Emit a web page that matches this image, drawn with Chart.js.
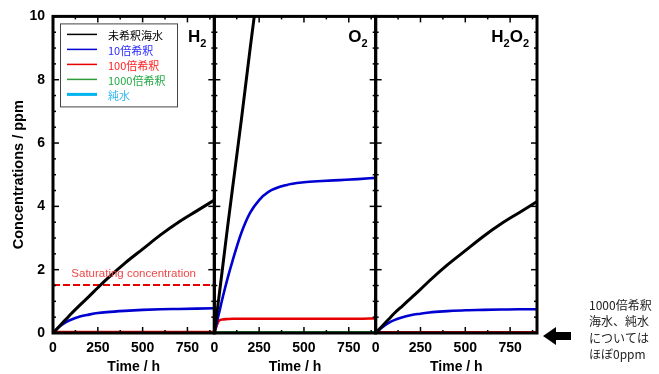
<!DOCTYPE html>
<html>
<head>
<meta charset="utf-8">
<script src="https://cdn.jsdelivr.net/npm/chart.js@4/dist/chart.umd.min.js"></script>
<style>
  html, body { margin: 0; padding: 0; background: #fff; }
  canvas { display: block; }
</style>
</head>
<body>
<canvas id="myChart" width="659" height="374"></canvas>
<script>
// data
const hours = [0, 25, 50, 75, 100, 150, 200, 250, 300, 400, 500, 600, 700, 800, 900];
const seriesNames = ['未希釈海水', '10倍希釈', '100倍希釈', '1000倍希釈', '純水'];
const seriesColors = ['#000000', '#0000d0', '#e60000', '#2e9a3a', '#00b4f0'];
const legendTextColors = ['#000000', '#2a2aff', '#ff2020', '#22aa44', '#33b8f0'];
const panelIds = ['x1', 'x2', 'x3'];

const h2Seawater = [0, 0.15, 0.3, 0.45, 0.6, 0.88, 1.15, 1.43, 1.7, 2.2, 2.65, 3.1, 3.5, 3.85, 4.2];
const h2Dil10 = [0, 0.14, 0.26, 0.35, 0.42, 0.52, 0.58, 0.63, 0.66, 0.7, 0.73, 0.75, 0.76, 0.77, 0.78];
const h2Dil100 = [0.03, 0.03, 0.03, 0.03, 0.03, 0.03, 0.03, 0.03, 0.03, 0.03, 0.03, 0.03, 0.03, 0.03, 0.03];
const h2Dil1000 = [0.01, 0.01, 0.01, 0.01, 0.01, 0.01, 0.01, 0.01, 0.01, 0.01, 0.01, 0.01, 0.01, 0.01, 0.01];
const h2Pure = [0, 0, 0, 0, 0, 0, 0, 0, 0, 0, 0, 0, 0, 0, 0];

const o2Seawater = [0, 1.1, 2.25, 3.4, 4.5, 6.7, 9.0, 11.2, null, null, null, null, null, null, null];
const o2Dil10 = [0, 0.6, 1.2, 1.75, 2.25, 3.15, 3.8, 4.2, 4.45, 4.67, 4.76, 4.8, 4.83, 4.86, 4.9];
const o2Dil100 = [0, 0.38, 0.43, 0.44, 0.45, 0.45, 0.45, 0.45, 0.45, 0.45, 0.45, 0.45, 0.45, 0.45, 0.46];
const o2Dil1000 = [0.03, 0.03, 0.03, 0.03, 0.03, 0.03, 0.03, 0.03, 0.03, 0.03, 0.03, 0.03, 0.03, 0.03, 0.03];
const o2Pure = [0, 0, 0, 0, 0, 0, 0, 0, 0, 0, 0, 0, 0, 0, 0];

const h2o2Seawater = [0, 0.15, 0.3, 0.45, 0.6, 0.86, 1.12, 1.38, 1.65, 2.15, 2.6, 3.05, 3.45, 3.8, 4.15];
const h2o2Dil10 = [0, 0.12, 0.24, 0.33, 0.4, 0.5, 0.57, 0.61, 0.65, 0.69, 0.72, 0.73, 0.74, 0.75, 0.75];
const h2o2Dil100 = [0.02, 0.02, 0.02, 0.02, 0.02, 0.02, 0.02, 0.02, 0.02, 0.02, 0.02, 0.02, 0.02, 0.02, 0.02];
const h2o2Dil1000 = [0.01, 0.01, 0.01, 0.01, 0.01, 0.01, 0.01, 0.01, 0.01, 0.01, 0.01, 0.01, 0.01, 0.01, 0.01];
const h2o2Pure = [0, 0, 0, 0, 0, 0, 0, 0, 0, 0, 0, 0, 0, 0, 0];

const saturationHours = [0, 900];
const saturationH2 = [1.52, 1.52];

const timeTicks = [0, 250, 500, 750];
const concTicks = [0, 2, 4, 6, 8, 10];

const panels = [
  { id: 'x1', label: ['H', '2'], series: [h2Seawater, h2Dil10, h2Dil100, h2Dil1000, h2Pure] },
  { id: 'x2', label: ['O', '2'], series: [o2Seawater, o2Dil10, o2Dil100, o2Dil1000, o2Pure] },
  { id: 'x3', label: ['H', '2', 'O', '2'], series: [h2o2Seawater, h2o2Dil10, h2o2Dil100, h2o2Dil1000, h2o2Pure] }
];

const widths = [3, 2.6, 2.6, 2, 2];

const datasets = [];
panels.forEach(p => {
  p.series.forEach((vals, i) => {
    datasets.push({
      label: seriesNames[i],
      xAxisID: p.id,
      yAxisID: 'y',
      data: hours.map((h, k) => ({x: h, y: vals[k]})),
      borderColor: seriesColors[i],
      backgroundColor: seriesColors[i],
      borderWidth: widths[i],
      pointRadius: 0,
      cubicInterpolationMode: 'monotone',
      spanGaps: false
    });
  });
});
datasets.push({
  label: 'Saturating concentration',
  xAxisID: 'x1',
  yAxisID: 'y',
  data: saturationHours.map((h, k) => ({x: h, y: saturationH2[k]})),
  borderColor: '#e60000',
  borderWidth: 2,
  borderDash: [7, 3],
  pointRadius: 2,
  pointBackgroundColor: '#e60000',
  pointBorderWidth: 0
});

const boldFont = {family: 'Liberation Sans', size: 14, weight: 'bold'};

function xScale(id) {
  return {
    type: 'linear',
    position: 'bottom',
    stack: 'time',
    stackWeight: 1,
    min: 0,
    max: 900,
    grid: {display: false, drawTicks: false},
    border: {display: false},
    afterBuildTicks: s => { s.ticks = timeTicks.map(v => ({value: v})); },
    afterFit: s => { s.height = 41; },
    ticks: {font: boldFont, color: '#000', padding: 7, maxRotation: 0, autoSkip: false},
    title: {display: true, text: 'Time / h', font: boldFont, color: '#000', padding: {top: 0, bottom: -2}}
  };
}

const framePlugin = {
  id: 'frame',
  afterDatasetsDraw(chart) {
    const {ctx, chartArea: a, scales} = chart;
    const y = scales.y;
    const seg = (x0, y0, x1, y1) => { ctx.beginPath(); ctx.moveTo(x0, y0); ctx.lineTo(x1, y1); ctx.stroke(); };
    ctx.save();
    ctx.strokeStyle = '#000';
    panelIds.forEach(id => {
      const x = scales[id];
      ctx.lineWidth = 1.5;
      for (let t = 0; t <= 900; t += 125) {
        const px = x.getPixelForValue(t);
        const len = t % 250 === 0 ? 6 : 3;
        seg(px, a.bottom, px, a.bottom - len);
        seg(px, a.top, px, a.top + len);
      }
      for (let v = 0; v <= 10; v += 0.5) {
        const py = y.getPixelForValue(v);
        const len = v % 2 === 0 ? 6 : 3;
        seg(x.left, py, x.left + len, py);
        seg(x.right, py, x.right - len, py);
      }
      ctx.lineWidth = 3;
      ctx.strokeRect(x.left, a.top, x.right - x.left, a.bottom - a.top);
    });

    // panel labels with subscripts
    panels.forEach(p => {
      const x = scales[p.id];
      const big = 'bold 17px "Liberation Sans"';
      const small = 'bold 11px "Liberation Sans"';
      let w = 0;
      p.label.forEach((s, i) => { ctx.font = i % 2 ? small : big; w += ctx.measureText(s).width; });
      let cx = x.right - 8 - w;
      ctx.fillStyle = '#000';
      ctx.textBaseline = 'alphabetic';
      p.label.forEach((s, i) => {
        ctx.font = i % 2 ? small : big;
        ctx.fillText(s, cx, i % 2 ? a.top + 31 : a.top + 26);
        cx += ctx.measureText(s).width;
      });
    });

    // legend box
    const x1 = scales.x1;
    const bx = x1.left + 7, by = a.top + 7, bw = 117, bh = 83;
    ctx.lineWidth = 1;
    ctx.strokeStyle = '#444';
    ctx.strokeRect(bx + 0.5, by + 0.5, bw, bh);
    ctx.font = '11px "Noto Sans CJK JP"';
    ctx.textBaseline = 'middle';
    seriesNames.forEach((name, i) => {
      const ly = by + 11 + i * 15;
      ctx.strokeStyle = seriesColors[i];
      ctx.lineWidth = i === 4 ? 3 : 1.5;
      seg(bx + 7, ly, bx + 37, ly);
      ctx.fillStyle = legendTextColors[i];
      ctx.fillText(name, bx + 48, ly + 1);
    });

    // saturating concentration note
    ctx.fillStyle = '#f04848';
    ctx.font = '11.5px "Liberation Sans"';
    ctx.textAlign = 'center';
    ctx.textBaseline = 'middle';
    ctx.fillText('Saturating concentration', x1.getPixelForValue(450), y.getPixelForValue(saturationH2[0]) - 11);

    // arrow and side note
    const ay = a.bottom + 3;
    const ax = scales.x3.right + 6;
    ctx.fillStyle = '#000';
    ctx.beginPath();
    ctx.moveTo(ax, ay);
    ctx.lineTo(ax + 13, ay - 9);
    ctx.lineTo(ax + 13, ay - 4);
    ctx.lineTo(ax + 28, ay - 4);
    ctx.lineTo(ax + 28, ay + 4);
    ctx.lineTo(ax + 13, ay + 4);
    ctx.lineTo(ax + 13, ay + 9);
    ctx.closePath();
    ctx.fill();
    ctx.font = '12px "Noto Sans CJK JP"';
    ctx.textAlign = 'left';
    ctx.fillStyle = '#222';
    ['1000倍希釈', '海水、純水', 'については', 'ほぼ0ppm'].forEach((t, i) => {
      ctx.fillText(t, 589, 305 + i * 16.5);
    });
    ctx.restore();
  }
};

const config = {
  type: 'line',
  data: {datasets: datasets},
  options: {
    responsive: false,
    animation: false,
    layout: {padding: {left: 10, right: 122, top: 16, bottom: 0}},
    plugins: {legend: {display: false}, tooltip: {enabled: false}},
    scales: {
      x1: xScale('x1'),
      x2: xScale('x2'),
      x3: xScale('x3'),
      y: {
        type: 'linear',
        position: 'left',
        min: 0,
        max: 10,
        grid: {display: false, drawTicks: false},
        border: {display: false},
        afterBuildTicks: s => { s.ticks = concTicks.map(v => ({value: v})); },
        afterFit: s => { s.width = 43; },
        ticks: {font: boldFont, color: '#000', padding: 8},
        title: {display: true, text: 'Concentrations / ppm', font: {family: 'Liberation Sans', size: 14.5, weight: 'bold'}, color: '#000', padding: 0}
      }
    }
  },
  plugins: [framePlugin]
};

const myChart = new Chart(document.getElementById('myChart'), config);
</script>
</body>
</html>
